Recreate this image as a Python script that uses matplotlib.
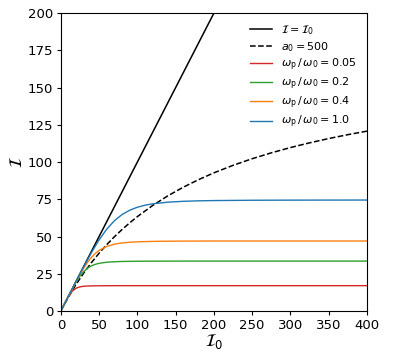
import matplotlib
matplotlib.use('Agg')
import matplotlib.pyplot as plt

# values
i0_ident = [0, 400]
i_ident = [0, 400]

i0_dash = [0, 10, 20, 30, 40, 50, 60, 70, 80, 90, 100, 120, 140, 160, 180,
           200, 225, 250, 275, 300, 325, 350, 375, 400]
i_dash = [0, 9.45, 17.93, 25.57, 32.49, 38.79, 44.55, 49.84, 54.70, 59.20,
          63.37, 70.85, 77.38, 83.12, 88.21, 92.76, 97.80, 102.24, 106.19,
          109.73, 112.90, 115.78, 118.39, 120.77]

i0_red = [0, 5, 10, 15, 20, 25, 30, 35, 40, 50, 60, 80, 400]
i_red = [0, 4.99, 9.72, 13.32, 15.31, 16.20, 16.59, 16.77, 16.86, 16.94,
         16.97, 17.0, 17.0]

i0_green = [0, 10, 15, 20, 25, 30, 35, 40, 45, 50, 60, 70, 80, 100, 120,
            160, 400]
i_green = [0, 9.98, 14.85, 19.41, 23.37, 26.50, 28.77, 30.31, 31.33, 32.00,
           32.73, 33.07, 33.25, 33.39, 33.45, 33.5, 33.5]

i0_orange = [0, 10, 20, 25, 30, 35, 40, 45, 50, 60, 70, 80, 90, 100, 120,
             140, 160, 200, 400]
i_orange = [0, 10, 19.84, 24.52, 28.87, 32.73, 36.00, 38.64, 40.69, 43.39,
            44.87, 45.70, 46.16, 46.44, 46.73, 46.86, 46.92, 47.0, 47.0]

i0_blue = [0, 10, 20, 30, 40, 50, 60, 70, 80, 90, 100, 110, 120, 140, 160,
           180, 200, 250, 300, 400]
i_blue = [0, 10, 19.97, 29.81, 39.21, 47.74, 54.96, 60.61, 64.75, 67.66,
          69.67, 71.03, 71.96, 73.08, 73.64, 73.96, 74.14, 74.35, 74.43, 74.5]

fig = plt.figure(figsize=(3.95, 3.55), dpi=100)
ax = fig.add_axes([0.154, 0.124, 0.775, 0.839])

ax.plot(i0_ident, i_ident, color='black', lw=1.1, label=r'$\mathcal{I} = \mathcal{I}_0$')
ax.plot(i0_dash, i_dash, color='black', lw=1.1, ls='--', label=r'$a_0 = 500$')
ax.plot(i0_red, i_red, color='tab:red', lw=1.0, label=r'$\omega_\mathrm{p}\,/\,\omega_0 = 0.05$')
ax.plot(i0_green, i_green, color='tab:green', lw=1.0, label=r'$\omega_\mathrm{p}\,/\,\omega_0 = 0.2$')
ax.plot(i0_orange, i_orange, color='tab:orange', lw=1.0, label=r'$\omega_\mathrm{p}\,/\,\omega_0 = 0.4$')
ax.plot(i0_blue, i_blue, color='tab:blue', lw=1.0, label=r'$\omega_\mathrm{p}\,/\,\omega_0 = 1.0$')

ax.set_xlim(0, 400)
ax.set_ylim(0, 200)
ax.set_xticks(range(0, 401, 50))
ax.set_yticks(range(0, 201, 25))
ax.tick_params(labelsize=9.5, length=3, pad=2.5)
ax.set_xlabel(r'$\mathcal{I}_0$', fontsize=12, labelpad=0)
ax.set_ylabel(r'$\mathcal{I}$', fontsize=12, labelpad=1)

ax.legend(loc='upper right', frameon=False, fontsize=8, labelspacing=0.25,
          borderaxespad=0.5)

fig.savefig('out.png', dpi=100)
